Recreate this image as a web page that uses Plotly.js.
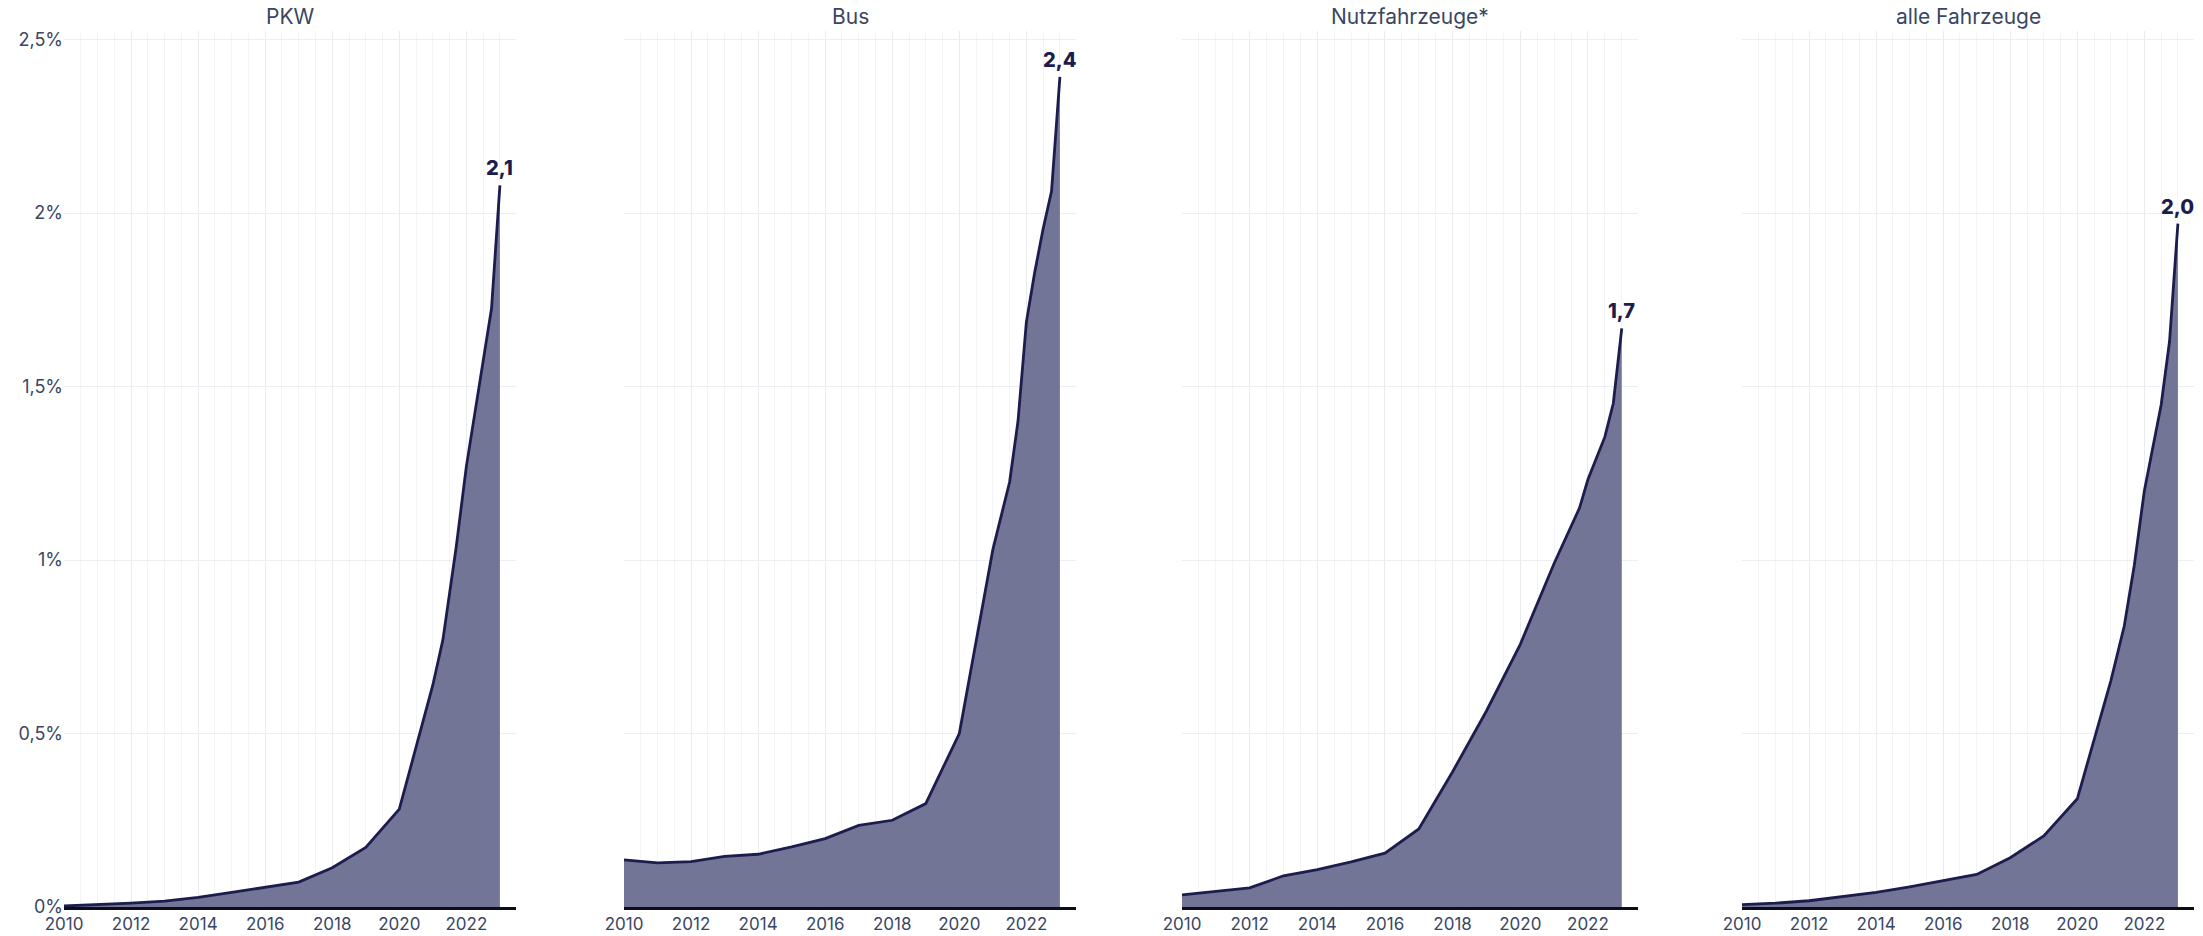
<!DOCTYPE html>
<html>
<head>
<meta charset="utf-8">
<script src="https://cdn.plot.ly/plotly-3.0.1.min.js"></script>
<style>
  html, body { margin: 0; padding: 0; background: #ffffff; }
  #chart { width: 2203px; height: 936px; }
</style>
</head>
<body>
<div id="chart"></div>
<script>
// ---- data (share in %) ----
const panelTitles = ["PKW", "Bus", "Nutzfahrzeuge*", "alle Fahrzeuge"];

const pkwX = [2010, 2011, 2012, 2013, 2014, 2015, 2016, 2017, 2018, 2019, 2020, 2021, 2021.3, 2021.7, 2022, 2022.75, 2023];
const pkwY = [0.003, 0.006, 0.011, 0.017, 0.028, 0.042, 0.056, 0.072, 0.113, 0.172, 0.282, 0.64, 0.77, 1.04, 1.27, 1.725, 2.08];

const busX = [2010, 2011, 2012, 2013, 2014, 2015, 2016, 2017, 2018, 2019, 2020, 2021, 2021.5, 2021.75, 2022, 2022.25, 2022.5, 2022.75, 2023];
const busY = [0.136, 0.127, 0.131, 0.146, 0.152, 0.173, 0.197, 0.235, 0.25, 0.298, 0.50, 1.03, 1.225, 1.40, 1.686, 1.83, 1.955, 2.063, 2.393];

const nfzX = [2010, 2011, 2012, 2013, 2014, 2015, 2016, 2017, 2018, 2019, 2020, 2021, 2021.75, 2022, 2022.5, 2022.75, 2023];
const nfzY = [0.035, 0.045, 0.055, 0.09, 0.108, 0.13, 0.155, 0.225, 0.39, 0.565, 0.757, 0.99, 1.15, 1.232, 1.355, 1.452, 1.668];

const alleX = [2010, 2011, 2012, 2013, 2014, 2015, 2016, 2017, 2018, 2019, 2020, 2021, 2021.4, 2021.7, 2022, 2022.5, 2022.75, 2023];
const alleY = [0.007, 0.011, 0.018, 0.029, 0.042, 0.058, 0.075, 0.094, 0.142, 0.205, 0.312, 0.652, 0.81, 0.985, 1.20, 1.447, 1.63, 1.97];

const yTickVals = [0, 0.5, 1, 1.5, 2, 2.5];
const yTickText = ["0%", "0,5%", "1%", "1,5%", "2%", "2,5%"];
const xTickVals = [2010, 2012, 2014, 2016, 2018, 2020, 2022];
const xTickText = ["2010", "2012", "2014", "2016", "2018", "2020", "2022"];

// ---- styling ----
const W = 2203, H = 936;
const domainsPx = [[64, 516], [624, 1076], [1182, 1638], [1742, 2194]];
const lineColor = "#1c1c4e";
const fillColor = "#737597";
const textColor = "#3a4664";
const fontFamily = "Inter, 'Noto Sans', sans-serif";

const series = [[pkwX, pkwY], [busX, busY], [nfzX, nfzY], [alleX, alleY]];

const traces = [];
const annotations = [];
const layout = {
  width: W, height: H,
  margin: { l: 0, r: 0, t: 31, b: 29 },
  paper_bgcolor: "#ffffff",
  plot_bgcolor: "#ffffff",
  showlegend: false,
  font: { family: fontFamily, color: textColor },
  annotations: annotations
};

series.forEach((s, i) => {
  const n = i === 0 ? "" : String(i + 1);
  traces.push({
    type: "scatter", mode: "lines",
    x: s[0], y: s[1],
    xaxis: "x" + n, yaxis: "y" + n,
    line: { color: lineColor, width: 2.8 },
    fill: "tozeroy", fillcolor: fillColor,
    hoverinfo: "skip"
  });
  const d = domainsPx[i];
  layout["xaxis" + n] = {
    domain: [d[0] / W, d[1] / W],
    range: [2010, 2023.48],
    anchor: "y" + n,
    tickmode: "array", tickvals: xTickVals, ticktext: xTickText,
    ticks: "", tickfont: { size: 17, color: textColor, family: fontFamily },
    showgrid: true, gridcolor: "#e9ebf1", gridwidth: 1,
    minor: { dtick: 0.5, tick0: 2010, showgrid: true, gridcolor: "#f3f4f8", gridwidth: 1 },
    showline: true, linecolor: "#0d0d1a", linewidth: 2.5,
    zeroline: false, fixedrange: true
  };
  layout["yaxis" + n] = {
    domain: [0, 1],
    range: [0, 2.525],
    anchor: "x" + n,
    tickmode: "array", tickvals: yTickVals, ticktext: yTickText,
    showticklabels: i === 0,
    ticks: "", tickfont: { size: 18, color: textColor, family: fontFamily },
    showgrid: true, gridcolor: "#eceef3", gridwidth: 1,
    zeroline: false, showline: false, fixedrange: true
  };
  // panel title
  annotations.push({
    xref: "paper", yref: "paper",
    x: (d[0] + d[1]) / 2 / W, y: 1,
    xanchor: "center", yanchor: "bottom", yshift: 0,
    text: panelTitles[i], showarrow: false,
    font: { size: 21, color: textColor, family: fontFamily }
  });
  // end value label
  const lastX = s[0][s[0].length - 1];
  const lastY = s[1][s[1].length - 1];
  annotations.push({
    xref: "x" + n, yref: "y" + n,
    x: lastX, y: lastY,
    xanchor: "center", yanchor: "bottom", yshift: 3,
    text: lastY.toFixed(1).replace(".", ","), showarrow: false,
    font: { size: 20, color: lineColor, family: fontFamily, weight: 800 }
  });
});

Plotly.newPlot("chart", traces, layout, { displayModeBar: false, staticPlot: true });
</script>
</body>
</html>
